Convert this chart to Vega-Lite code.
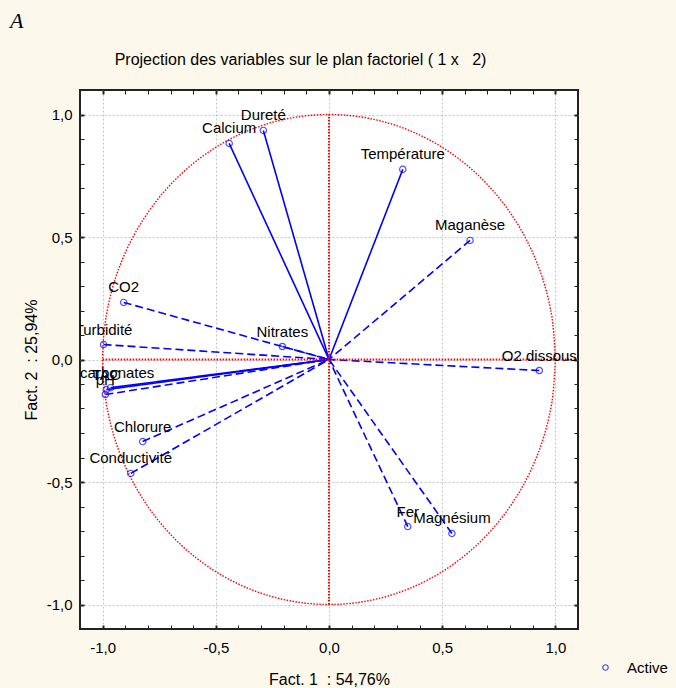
{
  "$schema": "https://vega.github.io/schema/vega-lite/v6.json",
  "width": 498,
  "height": 539,
  "autosize": "none",
  "padding": {"left": 80, "top": 90, "right": 98, "bottom": 59},
  "background": "#fdf8ec",
  "config": {
    "view": {"fill": "#ffffff", "stroke": "#222222", "strokeWidth": 2},
    "font": "Liberation Sans",
    "text": {"font": "Liberation Sans"}
  },
  "title": {
    "text": "A",
    "anchor": "start",
    "frame": "group",
    "dx": -70,
    "offset": 18,
    "font": "Liberation Serif",
    "fontStyle": "italic",
    "fontWeight": "normal",
    "fontSize": 22,
    "color": "#000000"
  },
  "datasets": {
    "vars": [
      {"nom": "Dureté", "x": -0.29, "y": 0.935, "trait": "plein", "type": "Active"},
      {"nom": "Calcium", "x": -0.441, "y": 0.882, "trait": "plein", "type": "Active"},
      {"nom": "Température", "x": 0.326, "y": 0.776, "trait": "plein", "type": "Active"},
      {"nom": "Maganèse", "x": 0.623, "y": 0.486, "trait": "tirets", "type": "Active"},
      {"nom": "CO2", "x": -0.907, "y": 0.233, "trait": "tirets", "type": "Active"},
      {"nom": "Turbidité", "x": -0.996, "y": 0.061, "trait": "tirets", "type": "Active"},
      {"nom": "Nitrates", "x": -0.206, "y": 0.053, "trait": "tirets", "type": "Active"},
      {"nom": "O2 dissous", "x": 0.929, "y": -0.045, "trait": "tirets", "type": "Active"},
      {"nom": "Bicarbonates", "x": -0.965, "y": -0.115, "trait": "plein", "type": "Active"},
      {"nom": "TAC", "x": -0.984, "y": -0.123, "trait": "plein", "type": "Active"},
      {"nom": "pH", "x": -0.988, "y": -0.143, "trait": "tirets", "type": "Active"},
      {"nom": "Chlorure", "x": -0.823, "y": -0.335, "trait": "tirets", "type": "Active"},
      {"nom": "Conductivité", "x": -0.876, "y": -0.465, "trait": "tirets", "type": "Active"},
      {"nom": "Fer", "x": 0.348, "y": -0.682, "trait": "tirets", "type": "Active"},
      {"nom": "Magnésium", "x": 0.543, "y": -0.71, "trait": "tirets", "type": "Active"}
    ],
    "cercle": [
      {"i": 0, "x": 1, "y": 0},
      {"i": 1, "x": 0.9848, "y": 0.1736},
      {"i": 2, "x": 0.9397, "y": 0.342},
      {"i": 3, "x": 0.866, "y": 0.5},
      {"i": 4, "x": 0.766, "y": 0.6428},
      {"i": 5, "x": 0.6428, "y": 0.766},
      {"i": 6, "x": 0.5, "y": 0.866},
      {"i": 7, "x": 0.342, "y": 0.9397},
      {"i": 8, "x": 0.1736, "y": 0.9848},
      {"i": 9, "x": 0, "y": 1},
      {"i": 10, "x": -0.1736, "y": 0.9848},
      {"i": 11, "x": -0.342, "y": 0.9397},
      {"i": 12, "x": -0.5, "y": 0.866},
      {"i": 13, "x": -0.6428, "y": 0.766},
      {"i": 14, "x": -0.766, "y": 0.6428},
      {"i": 15, "x": -0.866, "y": 0.5},
      {"i": 16, "x": -0.9397, "y": 0.342},
      {"i": 17, "x": -0.9848, "y": 0.1736},
      {"i": 18, "x": -1, "y": 0},
      {"i": 19, "x": -0.9848, "y": -0.1736},
      {"i": 20, "x": -0.9397, "y": -0.342},
      {"i": 21, "x": -0.866, "y": -0.5},
      {"i": 22, "x": -0.766, "y": -0.6428},
      {"i": 23, "x": -0.6428, "y": -0.766},
      {"i": 24, "x": -0.5, "y": -0.866},
      {"i": 25, "x": -0.342, "y": -0.9397},
      {"i": 26, "x": -0.1736, "y": -0.9848},
      {"i": 27, "x": 0, "y": -1},
      {"i": 28, "x": 0.1736, "y": -0.9848},
      {"i": 29, "x": 0.342, "y": -0.9397},
      {"i": 30, "x": 0.5, "y": -0.866},
      {"i": 31, "x": 0.6428, "y": -0.766},
      {"i": 32, "x": 0.766, "y": -0.6428},
      {"i": 33, "x": 0.866, "y": -0.5},
      {"i": 34, "x": 0.9397, "y": -0.342},
      {"i": 35, "x": 0.9848, "y": -0.1736},
      {"i": 36, "x": 1, "y": 0}
    ],
    "axes": [
      {"x": -1, "x2": 1.1, "y": 0, "y2": 0},
      {"x": 0, "x2": 0, "y": -1, "y2": 1}
    ]
  },
  "resolve": {"axis": {"x": "independent", "y": "independent"}},
  "layer": [
    {
      "data": {"name": "vars"},
      "mark": {"type": "rule", "color": "#0000ff", "strokeWidth": 1.6},
      "encoding": {
        "x": {
          "field": "x", "type": "quantitative",
          "scale": {"domain": [-1.1, 1.1], "nice": false, "zero": false},
          "axis": {
            "orient": "bottom",
            "values": [-1.1, -1, -0.9, -0.8, -0.7, -0.6, -0.5, -0.4, -0.3, -0.2, -0.1, 0, 0.1, 0.2, 0.3, 0.4, 0.5, 0.6, 0.7, 0.8, 0.9, 1, 1.1],
            "domain": false,
            "grid": true,
            "gridColor": "#c4c4c4",
            "gridDash": [2, 2],
            "gridOpacity": {"condition": {"test": "abs(datum.value*2 - round(datum.value*2)) < 0.001", "value": 1}, "value": 0},
            "tickSize": -4,
            "tickColor": "#222222",
            "tickWidth": {"condition": {"test": "abs(datum.value*2 - round(datum.value*2)) < 0.001", "value": 2}, "value": 1},
            "labelPadding": 15,
            "labelFontSize": 15,
            "labelColor": "#000000",
            "labelFont": "Liberation Sans",
            "labelExpr": "abs(datum.value*2 - round(datum.value*2)) < 0.001 && abs(datum.value) < 1.05 ? (datum.value < -0.001 ? '-' : '') + replace(format(abs(datum.value), '.1f'), '.', ',') : ''",
            "title": "Fact. 1 \u00a0: 54,76%",
            "titleFont": "Liberation Sans",
            "titleFontSize": 16,
            "titleFontWeight": "normal",
            "titleColor": "#000000",
            "titlePadding": 16
          }
        },
        "y": {
          "field": "y", "type": "quantitative",
          "scale": {"domain": [-1.1, 1.1], "nice": false, "zero": false},
          "axis": {
            "orient": "left",
            "values": [-1.1, -1, -0.9, -0.8, -0.7, -0.6, -0.5, -0.4, -0.3, -0.2, -0.1, 0, 0.1, 0.2, 0.3, 0.4, 0.5, 0.6, 0.7, 0.8, 0.9, 1, 1.1],
            "domain": false,
            "grid": true,
            "gridColor": "#c4c4c4",
            "gridDash": [2, 2],
            "gridOpacity": {"condition": {"test": "abs(datum.value*2 - round(datum.value*2)) < 0.001", "value": 1}, "value": 0},
            "tickSize": -4,
            "tickColor": "#222222",
            "tickWidth": {"condition": {"test": "abs(datum.value*2 - round(datum.value*2)) < 0.001", "value": 2}, "value": 1},
            "labelPadding": 12,
            "labelFontSize": 15,
            "labelColor": "#000000",
            "labelFont": "Liberation Sans",
            "labelExpr": "abs(datum.value*2 - round(datum.value*2)) < 0.001 && abs(datum.value) < 1.05 ? (datum.value < -0.001 ? '-' : '') + replace(format(abs(datum.value), '.1f'), '.', ',') : ''",
            "title": "Fact. 2 \u00a0: 25,94%",
            "titleFont": "Liberation Sans",
            "titleFontSize": 16,
            "titleFontWeight": "normal",
            "titleColor": "#000000",
            "titlePadding": 7
          }
        },
        "x2": {"datum": 0},
        "y2": {"datum": 0},
        "strokeDash": {
          "field": "trait", "type": "nominal",
          "scale": {"domain": ["plein", "tirets"], "range": [[1, 0], [8, 4]]},
          "legend": null
        }
      }
    },
    {
      "data": {"name": "cercle"},
      "mark": {"type": "line", "color": "#ff0000", "strokeWidth": 1.4, "strokeDash": [1.5, 1.5], "interpolate": "cardinal"},
      "encoding": {
        "x": {"field": "x", "type": "quantitative", "axis": null},
        "y": {"field": "y", "type": "quantitative", "axis": null},
        "order": {"field": "i", "type": "quantitative"}
      }
    },
    {
      "data": {"name": "axes"},
      "mark": {"type": "rule", "color": "#ff0000", "strokeWidth": 2, "strokeDash": [1.5, 1.5]},
      "encoding": {
        "x": {"field": "x", "type": "quantitative", "axis": null},
        "x2": {"field": "x2"},
        "y": {"field": "y", "type": "quantitative", "axis": null},
        "y2": {"field": "y2"}
      }
    },
    {
      "data": {"name": "vars"},
      "mark": {"type": "point", "filled": false, "size": 40, "strokeWidth": 1.2, "shape": "circle"},
      "encoding": {
        "x": {
          "field": "x", "type": "quantitative",
          "axis": {
            "orient": "top",
            "values": [-1.1, -1, -0.9, -0.8, -0.7, -0.6, -0.5, -0.4, -0.3, -0.2, -0.1, 0, 0.1, 0.2, 0.3, 0.4, 0.5, 0.6, 0.7, 0.8, 0.9, 1, 1.1],
            "domain": false,
            "grid": false,
            "labels": false,
            "tickSize": -4,
            "tickColor": "#222222",
            "tickWidth": {"condition": {"test": "abs(datum.value*2 - round(datum.value*2)) < 0.001", "value": 2}, "value": 1},
            "title": "Projection des variables sur le plan factoriel ( 1 x \u00a0 2)",
            "titleFont": "Liberation Sans",
            "titleFontSize": 16,
            "titleFontWeight": "normal",
            "titleColor": "#000000",
            "titleX": 220,
            "titlePadding": 22
          }
        },
        "y": {
          "field": "y", "type": "quantitative",
          "axis": {
            "orient": "right",
            "values": [-1.1, -1, -0.9, -0.8, -0.7, -0.6, -0.5, -0.4, -0.3, -0.2, -0.1, 0, 0.1, 0.2, 0.3, 0.4, 0.5, 0.6, 0.7, 0.8, 0.9, 1, 1.1],
            "domain": false,
            "grid": false,
            "labels": false,
            "tickSize": -4,
            "tickColor": "#222222",
            "tickWidth": {"condition": {"test": "abs(datum.value*2 - round(datum.value*2)) < 0.001", "value": 2}, "value": 1},
            "title": null
          }
        },
        "color": {
          "field": "type", "type": "nominal",
          "scale": {"domain": ["Active"], "range": ["#0000ff"]},
          "legend": {
            "title": null,
            "orient": "none",
            "legendX": 518,
            "legendY": 570,
            "labelFontSize": 15,
            "labelFont": "Liberation Sans",
            "labelColor": "#000000",
            "symbolSize": 30,
            "symbolStrokeWidth": 1.2,
            "labelOffset": 14
          }
        }
      }
    },
    {
      "data": {"name": "vars"},
      "mark": {"type": "text", "dy": -15, "fontSize": 15, "font": "Liberation Sans", "color": "#000000", "align": "center", "baseline": "middle", "clip": true},
      "encoding": {
        "x": {"field": "x", "type": "quantitative", "axis": null},
        "y": {"field": "y", "type": "quantitative", "axis": null},
        "text": {"field": "nom"}
      }
    }
  ]
}
